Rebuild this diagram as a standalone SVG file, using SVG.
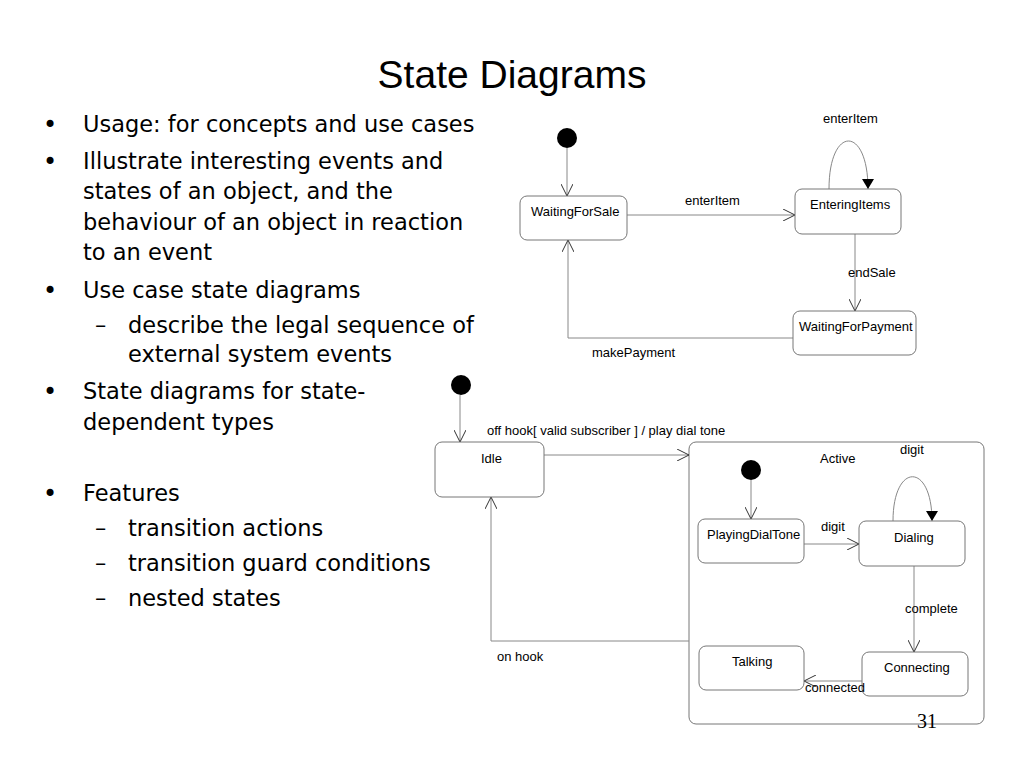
<svg xmlns="http://www.w3.org/2000/svg" width="1024" height="768" viewBox="0 0 1024 768">
<defs>
<marker id="open" viewBox="0 0 12 12" refX="12" refY="6" markerWidth="12" markerHeight="12" markerUnits="userSpaceOnUse" orient="auto">
<path d="M0,0 L12,6 L0,12" fill="none" stroke="#333" stroke-width="1"/>
</marker>
<marker id="filled" viewBox="0 0 10 12" refX="10" refY="6" markerWidth="10" markerHeight="12" markerUnits="userSpaceOnUse" orient="auto">
<path d="M0,0 L10,6 L0,12 Z" fill="#000"/>
</marker>
</defs>
<style>
.title{font-family:"Liberation Sans",Arial,sans-serif;font-size:39px;fill:#000}
.b{font-family:"DejaVu Sans",sans-serif;font-size:22.5px;fill:#000}
.bul{font-family:"DejaVu Sans",sans-serif;font-size:24px;fill:#000}
.lbl{font-family:"Liberation Sans",Arial,sans-serif;font-size:13px;fill:#000}
.box{fill:#fff;stroke:#777;stroke-width:1}
.ln{fill:none;stroke:#888;stroke-width:1}
.dot{fill:#000}
</style>
<rect width="1024" height="768" fill="#fff"/>
<text class="title" x="512" y="88" text-anchor="middle">State Diagrams</text>
<g id="bullets">
<text class="bul" x="43" y="133">•</text><text class="b" x="83" y="132">Usage: for concepts and use cases</text>
<text class="bul" x="43" y="170">•</text><text class="b" x="83" y="169">Illustrate interesting events and</text>
<text class="b" x="83" y="199">states of an object, and the</text>
<text class="b" x="83" y="230">behaviour of an object in reaction</text>
<text class="b" x="83" y="260">to an event</text>
<text class="bul" x="43" y="299">•</text><text class="b" x="83" y="298">Use case state diagrams</text>
<text class="b" x="95" y="333">–</text><text class="b" x="128" y="333">describe the legal sequence of</text>
<text class="b" x="128" y="362">external system events</text>
<text class="bul" x="43" y="400">•</text><text class="b" x="83" y="399">State diagrams for state-</text>
<text class="b" x="83" y="430">dependent types</text>
<text class="bul" x="43" y="502">•</text><text class="b" x="83" y="501">Features</text>
<text class="b" x="95" y="536">–</text><text class="b" x="128" y="536">transition actions</text>
<text class="b" x="95" y="571">–</text><text class="b" x="128" y="571">transition guard conditions</text>
<text class="b" x="95" y="606">–</text><text class="b" x="128" y="606">nested states</text>
</g>
<g id="Active"><rect class="box" x="689" y="442" width="295" height="282" rx="7" style="fill:none"/><text class="lbl" x="820" y="463">Active</text></g>
<g id="connectors">
<line class="ln" x1="567" y1="148" x2="567" y2="196" marker-end="url(#open)"/>
<line class="ln" x1="627" y1="215" x2="795" y2="215" marker-end="url(#open)"/>
<path class="ln" d="M829,189 C829,125 868,125 868,189" marker-end="url(#filled)"/>
<line class="ln" x1="855" y1="234" x2="855" y2="311" marker-end="url(#open)"/>
<path class="ln" d="M793,338 L568,338 L568,240" marker-end="url(#open)"/>
<line class="ln" x1="460" y1="395" x2="460" y2="442" marker-end="url(#open)"/>
<line class="ln" x1="544" y1="455" x2="689" y2="455" marker-end="url(#open)"/>
<path class="ln" d="M689,641 L491,641 L491,497" marker-end="url(#open)"/>
<line class="ln" x1="751" y1="480" x2="751" y2="519" marker-end="url(#open)"/>
<line class="ln" x1="804" y1="544" x2="859" y2="544" marker-end="url(#open)"/>
<path class="ln" d="M893,521 C893,462 932,462 932,521" marker-end="url(#filled)"/>
<line class="ln" x1="914" y1="566" x2="914" y2="652" marker-end="url(#open)"/>
<line class="ln" x1="862" y1="681" x2="804" y2="681" marker-end="url(#open)"/>
</g>
<g id="init1"><circle class="dot" cx="567" cy="138" r="10"/></g>
<g id="WaitingForSale"><rect class="box" x="520" y="196" width="107" height="44" rx="7"/><text class="lbl" x="531" y="216">WaitingForSale</text></g>
<g id="EnteringItems"><rect class="box" x="795" y="189" width="106" height="45" rx="7"/><text class="lbl" x="810" y="209">EnteringItems</text></g>
<g id="WaitingForPayment"><rect class="box" x="793" y="311" width="123" height="44" rx="7"/><text class="lbl" x="799" y="331">WaitingForPayment</text></g>
<g id="init2"><circle class="dot" cx="461" cy="385" r="10"/></g>
<g id="Idle"><rect class="box" x="435" y="442" width="109" height="55" rx="7"/><text class="lbl" x="481" y="463">Idle</text></g>
<g id="init3"><circle class="dot" cx="751" cy="470" r="10"/></g>
<g id="PlayingDialTone"><rect class="box" x="698" y="519" width="106" height="44" rx="7"/><text class="lbl" x="707" y="539">PlayingDialTone</text></g>
<g id="Dialing"><rect class="box" x="859" y="521" width="106" height="45" rx="7"/><text class="lbl" x="894" y="542">Dialing</text></g>
<g id="Connecting"><rect class="box" x="862" y="652" width="106" height="44" rx="7"/><text class="lbl" x="884" y="672">Connecting</text></g>
<g id="Talking"><rect class="box" x="699" y="646" width="105" height="44" rx="7"/><text class="lbl" x="732" y="666">Talking</text></g>
<g id="labels">
<text class="lbl" x="685" y="205">enterItem</text>
<text class="lbl" x="823" y="123">enterItem</text>
<text class="lbl" x="848" y="277">endSale</text>
<text class="lbl" x="592" y="357">makePayment</text>
<text class="lbl" x="487" y="435">off hook[ valid subscriber ] / play dial tone</text>
<text class="lbl" x="497" y="661">on hook</text>
<text class="lbl" x="821" y="531">digit</text>
<text class="lbl" x="900" y="454">digit</text>
<text class="lbl" x="905" y="613">complete</text>
<text class="lbl" x="805" y="692">connected</text>
</g>
<text x="917" y="728" font-family="Liberation Serif,serif" font-size="20">31</text>
</svg>
